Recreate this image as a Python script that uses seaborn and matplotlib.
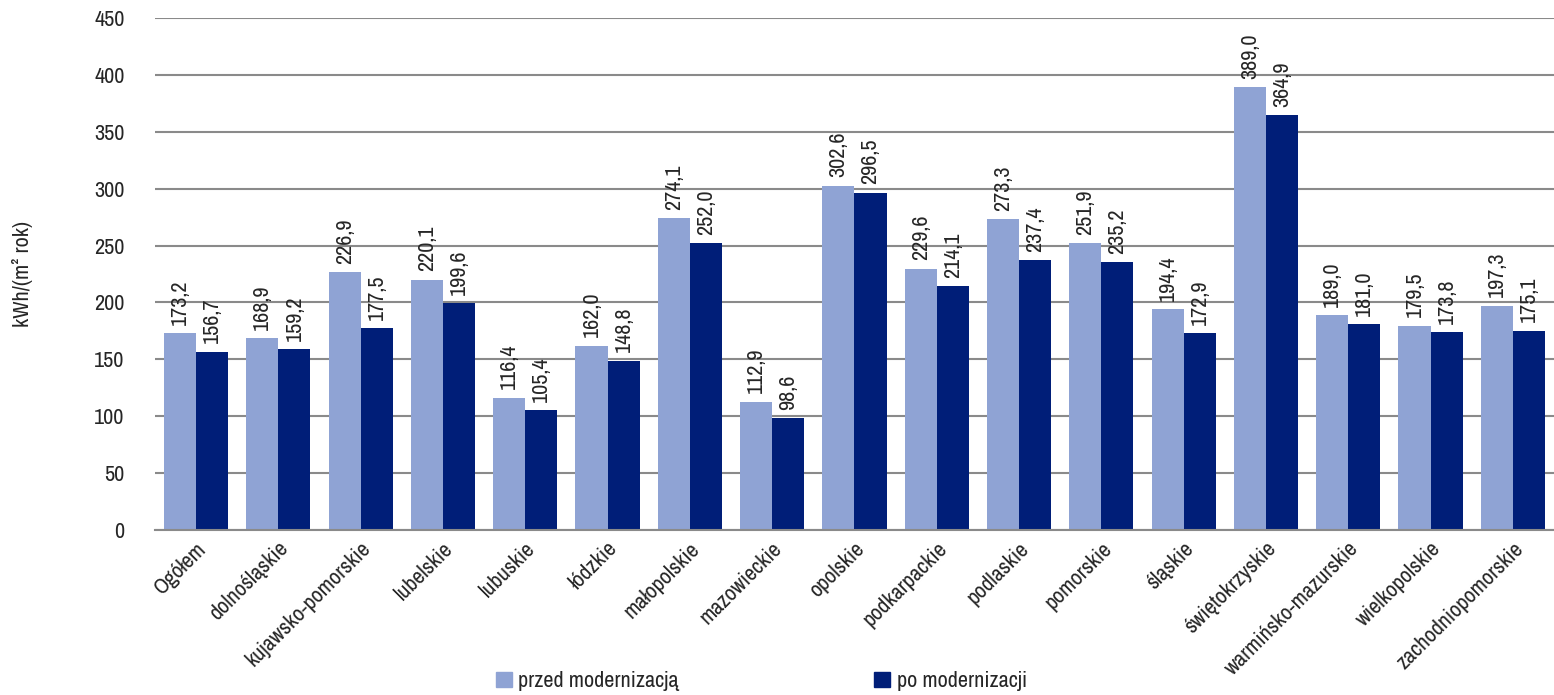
import pandas as pd
import matplotlib
matplotlib.use("Agg")
import matplotlib.pyplot as plt
import seaborn as sns
from matplotlib.patches import Patch
from matplotlib import font_manager

# data
regions = ["Ogółem", "dolnośląskie", "kujawsko-pomorskie", "lubelskie", "lubuskie",
           "łódzkie", "małopolskie", "mazowieckie", "opolskie", "podkarpackie",
           "podlaskie", "pomorskie", "śląskie", "świętokrzyskie", "warmińsko-mazurskie",
           "wielkopolskie", "zachodniopomorskie"]
przed = [173.2, 168.9, 226.9, 220.1, 116.4, 162.0, 274.1, 112.9, 302.6, 229.6,
         273.3, 251.9, 194.4, 389.0, 189.0, 179.5, 197.3]
po = [156.7, 159.2, 177.5, 199.6, 105.4, 148.8, 252.0, 98.6, 296.5, 214.1,
      237.4, 235.2, 172.9, 364.9, 181.0, 173.8, 175.1]
series = ["przed modernizacją", "po modernizacji"]
colors = ["#8FA3D4", "#001E78"]

df = pd.DataFrame({
    "region": regions * 2,
    "seria": [series[0]] * len(regions) + [series[1]] * len(regions),
    "wartosc": przed + po,
})

# pick a narrow font if one is around, else Roboto
names = {f.name for f in font_manager.fontManager.ttflist}
narrow = sorted(n for n in names if "Narrow" in n or "Condensed" in n)
if narrow:
    family, fs = narrow[0], 16
else:
    family, fs = "Roboto", 12.5

sns.set_style("white")
plt.rcParams["font.family"] = [family, "DejaVu Sans"]
plt.rcParams["font.size"] = fs

fig = plt.figure(figsize=(15.54, 6.95), dpi=100)
ax = fig.add_axes([0.0997, 0.2374, 0.9003, 0.7366])

sns.barplot(data=df, x="region", y="wartosc", hue="seria", palette=colors,
            width=0.78, saturation=1, ax=ax, legend=False, errorbar=None,
            linewidth=0)

for cont in ax.containers:
    vals = [r.get_height() for r in cont]
    ax.bar_label(cont, labels=[f"{v:.1f}".replace(".", ",") for v in vals],
                 rotation=90, padding=6, fontsize=fs)

ax.set_ylim(0, 450)
ax.set_yticks(range(0, 451, 50))
ax.set_xlim(-0.5, len(regions) - 0.5)
ax.yaxis.grid(True, color="#8a8a8a", linewidth=1.5)
ax.set_axisbelow(True)
for s in ["top", "right", "left"]:
    ax.spines[s].set_visible(False)
ax.spines["bottom"].set_color("#8a8a8a")
ax.spines["bottom"].set_linewidth(1.5)
ax.tick_params(axis="both", length=0, labelsize=fs)
ax.tick_params(axis="y", pad=22)
ax.tick_params(axis="x", pad=6)
plt.setp(ax.get_xticklabels(), rotation=45, ha="right", rotation_mode="anchor")
ax.set_xlabel("")
ax.set_ylabel("kWh/(m² rok)", fontsize=fs, labelpad=44)

handles = [Patch(color=c) for c in colors]
fig.legend(handles, series, loc="center", bbox_to_anchor=(0.49, 0.02), ncol=2,
           frameon=False, handlelength=0.7, handleheight=0.7, handletextpad=0.3,
           columnspacing=8.8, fontsize=fs)

fig.savefig("out.png", dpi=100)
